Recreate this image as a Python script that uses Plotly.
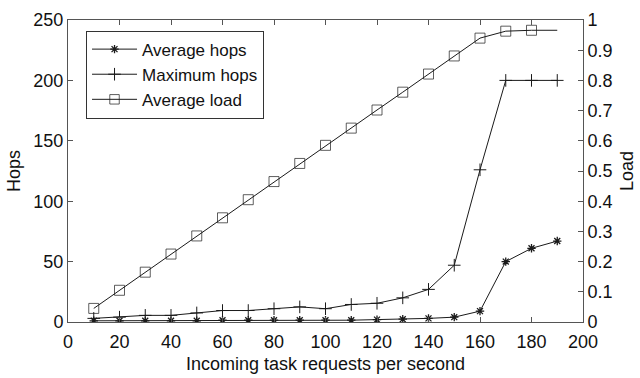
import plotly.graph_objects as go

x_vals = [10, 20, 30, 40, 50, 60, 70, 80, 90, 100, 110, 120, 130, 140, 150, 160, 170, 180, 190]
avg_hops = [1, 1, 1, 1, 1, 1.5, 1.5, 1.5, 1.5, 1.5, 1.5, 2, 2.3, 3, 4, 9, 50, 61, 67]
max_hops = [3, 4, 5.5, 5.5, 7.5, 9.5, 9.5, 11, 12.5, 11, 14.5, 15.5, 20, 27, 47, 126, 200, 200, 200]
avg_load = [0.045, 0.105, 0.165, 0.225, 0.285, 0.345, 0.405, 0.465, 0.525, 0.585,
            0.642, 0.702, 0.761, 0.821, 0.881, 0.94, 0.963, 0.966, 0.966]

FONT = "Liberation Sans, Arial, sans-serif"
LC = "#1a1a1a"

fig = go.Figure()
fig.add_trace(go.Scatter(
    x=x_vals, y=avg_hops, name="Average hops", mode="lines+markers",
    line=dict(color=LC, width=1),
    marker=dict(symbol="asterisk-open", size=7, color=LC, line=dict(width=1.3, color=LC)),
))
fig.add_trace(go.Scatter(
    x=x_vals, y=max_hops, name="Maximum hops", mode="lines+markers",
    line=dict(color=LC, width=1),
    marker=dict(symbol="cross-thin-open", size=9, color=LC, line=dict(width=1, color=LC)),
))
load_sizes = [10] * (len(x_vals) - 1) + [0]
fig.add_trace(go.Scatter(
    x=x_vals, y=avg_load, name="Average load", mode="lines+markers", yaxis="y2",
    line=dict(color=LC, width=1),
    marker=dict(symbol="square-open", size=load_sizes, color=LC, line=dict(width=1, color=LC)),
))

axis_common = dict(
    showline=True, linecolor="#555", linewidth=1, ticks="inside", ticklen=5,
    tickcolor="#555", showgrid=False, zeroline=False, automargin=False,
    tickfont=dict(family=FONT, size=18, color="#111"),
)

fig.update_layout(
    width=640, height=378,
    margin=dict(l=68, r=57, t=20, b=56),
    paper_bgcolor="white", plot_bgcolor="white",
    font=dict(family=FONT, size=18, color="#111"),
    showlegend=True,
    legend=dict(
        x=0.035, y=0.965, xanchor="left", yanchor="top",
        bordercolor="#333", borderwidth=1, bgcolor="white",
        font=dict(family=FONT, size=17, color="#111"),
        tracegroupgap=0, itemwidth=45,
    ),
    xaxis=dict(
        range=[0, 200], dtick=20, tick0=0, mirror="ticks", ticklabelstandoff=3,
        title=dict(text="Incoming task requests per second", standoff=6,
                   font=dict(family=FONT, size=18)),
        **axis_common,
    ),
    yaxis=dict(
        range=[0, 250], dtick=50, tick0=0,
        title=dict(text="Hops", standoff=8, font=dict(family=FONT, size=18)),
        **axis_common,
    ),
    yaxis2=dict(
        range=[0, 1], dtick=0.1, tick0=0, overlaying="y", side="right",
        title=dict(text="Load", standoff=8, font=dict(family=FONT, size=18)),
        **axis_common,
    ),
)

fig.write_html("out.html")
